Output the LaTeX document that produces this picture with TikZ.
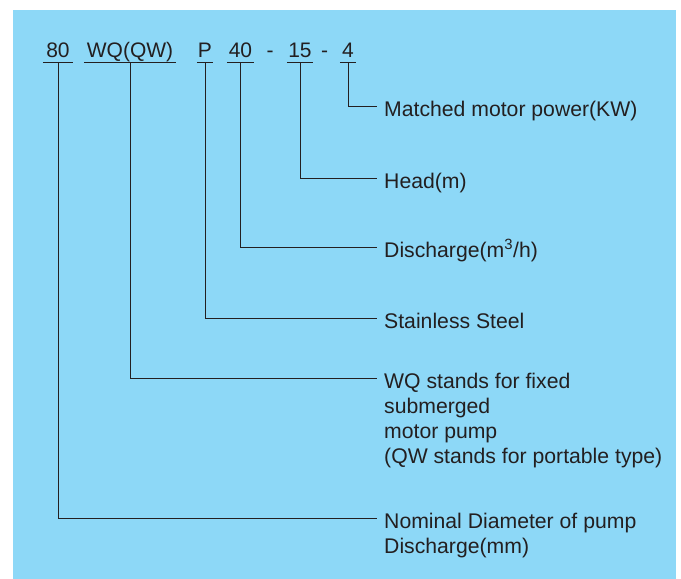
\documentclass[tikz,border=0pt]{standalone}
\usepackage{fontspec}
\setmainfont{Liberation Sans}
\usetikzlibrary{positioning,calc}

\definecolor{skyback}{HTML}{8DD8F7}
\definecolor{inkgray}{HTML}{231F20}

\tikzset{
  part/.style={anchor=base, inner xsep=0pt, inner ysep=5.5pt, text height=15pt, text depth=0pt,
    font=\fontsize{21}{25}\selectfont, text=inkgray},
  note/.style={anchor=base west, inner sep=0pt, align=left,
    font=\fontsize{21.2}{25}\selectfont, text=inkgray},
  lead/.style={draw=inkgray, line width=0.9pt}
}

\begin{document}
\begin{tikzpicture}[x=1pt,y=-1pt]
\useasboundingbox (0,0) rectangle (681,579);
\fill[skyback] (13,10) rectangle (676,579);

% model code
\node[part, minimum width=30pt] (d80) at (58,57) {80};
\node[part, minimum width=92pt] (wq) at (130,57) {WQ(QW)};
\node[part, minimum width=16pt] (p) at (205,57) {P};
\node[part, minimum width=27pt] (d40) at (240.5,57) {40};
\node[part] (dasha) at (270,57) {-};
\node[part, minimum width=26pt] (d15) at (300,57) {15};
\node[part] (dashb) at (324.5,57) {-};
\node[part, minimum width=16pt] (d4) at (348,57) {4};
\foreach \n in {d80,wq,p,d40,d15,d4}
  \draw[lead] (\n.south west) -- (\n.south east);

% line ends
\coordinate (e4) at (377,106);
\coordinate (e15) at (377,178);
\coordinate (e40) at (377,247);
\coordinate (ep) at (377,318);
\coordinate (ewq) at (377,378);
\coordinate (e80) at (377,518);

\draw[lead] (d4.south) |- (e4);
\draw[lead] (d15.south) |- (e15);
\draw[lead] (d40.south) |- (e40);
\draw[lead] (p.south) |- (ep);
\draw[lead] (wq.south) |- (ewq);
\draw[lead] (d80.south) |- (e80);

% meanings (base = last line, so multi-line ones go down by 25pt a line)
\node[note] (t4) at ([xshift=7pt,yshift=-10pt]e4) {Matched motor power(KW)};
\node[note] (t15) at ([xshift=7pt,yshift=-10pt]e15) {Head(m)};
\node[note] (t40) at ([xshift=7pt,yshift=-10pt]e40) {Discharge(m\textsuperscript{3}/h)};
\node[note] (tp) at ([xshift=7pt,yshift=-10pt]ep) {Stainless Steel};
\node[note] (twq) at ([xshift=7pt,yshift=-85pt]ewq) {WQ stands for fixed\\submerged\\motor pump\\(QW stands for portable type)};
\node[note] (t80) at ([xshift=7pt,yshift=-35pt]e80) {Nominal Diameter of pump\\Discharge(mm)};
\end{tikzpicture}
\end{document}
